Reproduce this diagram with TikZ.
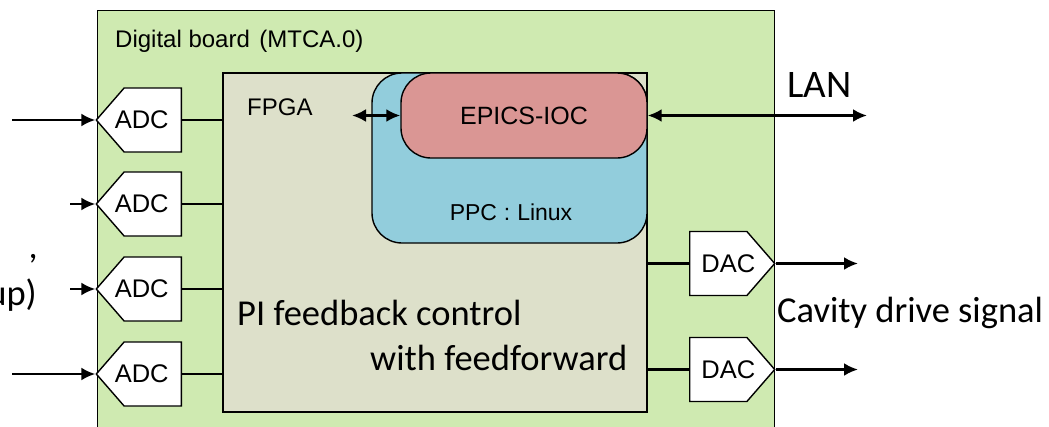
\documentclass[tikz,border=0pt]{standalone}
\usepackage{fontspec}
\setmainfont{Carlito}
\newfontfamily\gothicfont{Liberation Sans}
\usetikzlibrary{positioning,arrows.meta,shapes.symbols}
\definecolor{boardgreen}{HTML}{CFEAB1}
\definecolor{fpgagray}{HTML}{DDE0CA}
\definecolor{ppcblue}{HTML}{92CDDC}
\definecolor{iocred}{HTML}{DA9694}

\begin{document}
\begin{tikzpicture}[x=1pt,y=-1pt,
    conv/.style={signal,draw,fill=white,line width=1.4pt,inner sep=0pt,
        minimum width=85pt,minimum height=64pt,signal pointer angle=98,
        font=\gothicfont\fontsize{25.5}{25.5}\selectfont},
    block/.style={draw,line width=1.4pt,inner sep=0pt},
    jlabel/.style={font=\gothicfont\fontsize{24}{24}\selectfont,inner sep=0pt},
    elabel/.style={font=\fontsize{36.5}{44}\selectfont,inner sep=0pt},
    wire/.style={line width=2.6pt},
    sig/.style={wire,-{Latex[length=14pt,width=13pt]}},
    bisig/.style={wire,{Latex[length=14pt,width=13pt]}-{Latex[length=14pt,width=13pt]}}
    ]
\useasboundingbox (0,0) rectangle (1049,426);
\clip (0,0) rectangle (1049,426);
% board
\draw[fill=boardgreen,line width=1pt] (97,10) rectangle (774,440);
\node[jlabel,anchor=base west,font=\gothicfont\fontsize{24}{24}\selectfont] (board)
    at (115,47) {Digital board\hspace{0.4em}(MTCA.0)};
% FPGA and PPC
\node[block,fill=fpgagray,minimum width=424pt,minimum height=339pt] (fpga) at (435,242.5) {};
\node[jlabel,anchor=base west] (fpgalabel) at (247,115) {FPGA};
\node[block,fill=ppcblue,rounded corners=30pt,minimum width=275pt,minimum height=170pt] (ppc) at (509.5,158) {};
\node[jlabel,font=\gothicfont\fontsize{23}{23}\selectfont,anchor=base] (ppclabel) at (511,220) {PPC\hspace{0.3em}:\hspace{0.3em}Linux};
\node[block,fill=iocred,rounded corners=30pt,minimum width=246pt,minimum height=85pt,
    jlabel,font=\gothicfont\fontsize{25}{25}\selectfont] (ioc) at (524,115.5) {EPICS-IOC};
\node[elabel,anchor=base west] (pi1) at (237,325) {PI feedback control};
\node[elabel,anchor=base west] (pi2) at (370,370) {with feedforward};
% ADCs
\foreach \i/\y/\x in {1/120/12,2/204/70,3/289/70,4/374/12}{
    \node[conv,signal to=west,anchor=east] (adc\i) at (182,\y)
        {\makebox[0pt][c]{ADC\hspace{22pt}}};
    \coordinate (in\i) at (\x,\y);
    \draw[sig] (in\i) -- (adc\i.west);
    \draw[wire] (adc\i.east) -- (adc\i.east -| fpga.west);
}
% DACs
\foreach \i/\y in {1/263.5,2/369.5}{
    \node[conv,signal to=east,anchor=west] (dac\i) at (689,\y)
        {\makebox[0pt][c]{\hspace{20pt}DAC}};
    \coordinate (out\i) at (858,\y);
    \draw[sig] (dac\i.east) -- (out\i);
    \draw[wire] (dac\i.west -| fpga.east) -- (dac\i.west);
}
% LAN and FPGA-IOC link
\coordinate (fpgaport) at (352,115.5);
\draw[bisig] (fpgaport) -- (ioc.west);
\coordinate (lanend) at (867,115.5);
\draw[bisig] (ioc.east) -- (lanend);
\node[elabel,font=\fontsize{39}{44}\selectfont,anchor=base west] (lan) at (787,97) {LAN};
\node[elabel,anchor=base west] (drive) at (777,322) {Cavity drive signal};
% cut-off input label
\node[elabel,anchor=base east] (inlabel1) at (38,258) {,};
\node[elabel,anchor=base east] (inlabel2) at (37,305) {up)};
\end{tikzpicture}
\end{document}
